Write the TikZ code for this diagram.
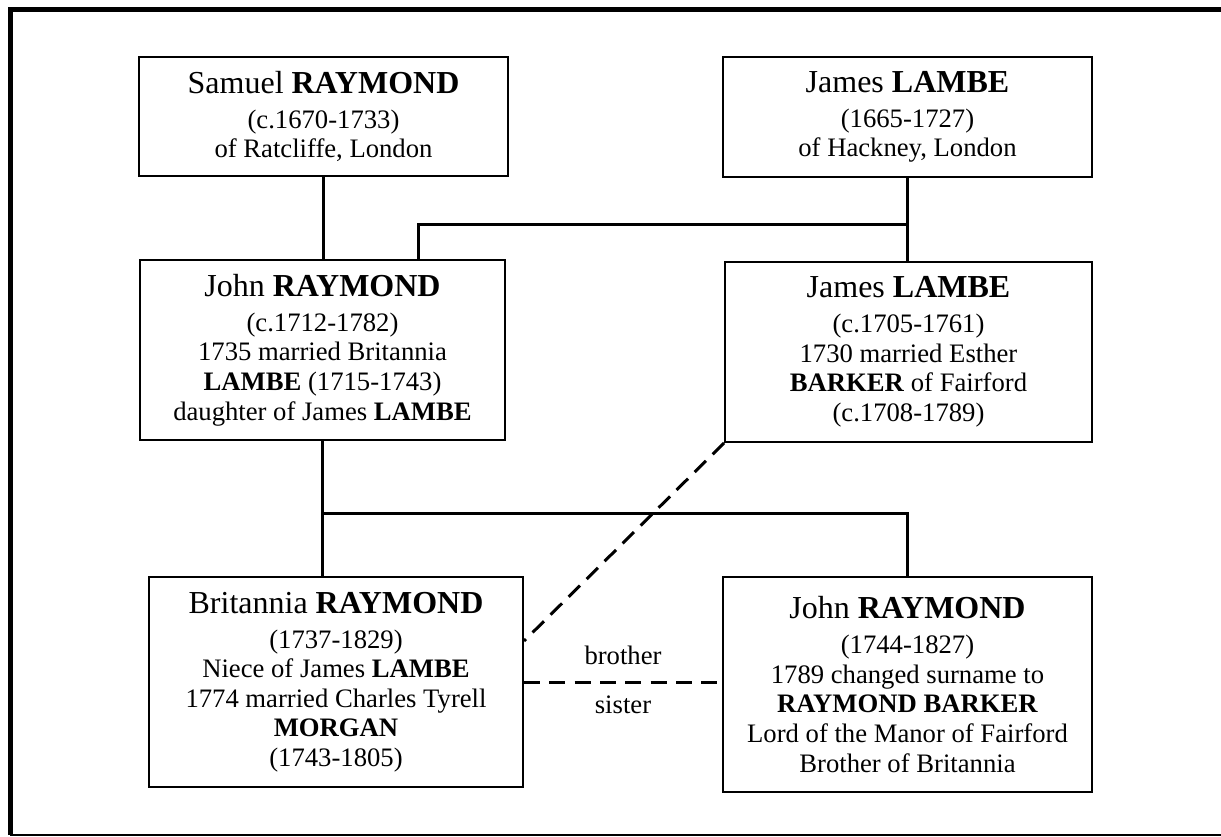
\documentclass[tikz,border=0pt]{standalone}
\usepackage{fontspec}
\setmainfont{Liberation Serif}
\usetikzlibrary{calc}

\tikzset{
  person/.style={draw, line width=1.5pt, align=center, inner sep=0pt,
    font=\fontsize{20}{22.2}\selectfont},
  kin/.style={line width=2.25pt},
  sibling/.style={line width=2.25pt, dash pattern=on 12pt off 7pt},
  relname/.style={inner sep=0pt, font=\fontsize{20}{22.2}\selectfont},
}
\newcommand{\pname}[2]{{\fontsize{24}{27}\selectfont #1 \textbf{#2}}\\[4pt]}

\begin{document}
\begin{tikzpicture}[x=0.75pt,y=0.75pt,yscale=-1,xscale=1]
\useasboundingbox (0,0) rectangle (1221,837);

% Frame
\draw [line width=3.75pt] (10,835) -- (10,10) -- (1221,10) ;
\draw [line width=1.5pt] (10,835) -- (1221,835) ;

% Generation 1
\node [person, minimum width=276.75pt, minimum height=89.25pt] (sam) at (323.5,116.5)
  {\pname{Samuel}{RAYMOND}(c.1670-1733)\\of Ratcliffe, London};
\node [person, minimum width=276.75pt, minimum height=90pt] (jamesA) at (907.5,117)
  {\pname{James}{LAMBE}(1665-1727)\\of Hackney, London};

% Generation 2
\node [person, minimum width=273.75pt, minimum height=135pt] (john) at (322.5,350)
  {\pname{John}{RAYMOND}(c.1712-1782)\\1735 married Britannia\\\textbf{LAMBE} (1715-1743)\\daughter of James \textbf{LAMBE}};
\node [person, minimum width=275.25pt, minimum height=135pt] (jamesB) at (908.5,352)
  {\pname{James}{LAMBE}(c.1705-1761)\\1730 married Esther\\\textbf{BARKER} of Fairford\\(c.1708-1789)};

% Generation 3
\node [person, minimum width=280.5pt, minimum height=157.5pt] (brit) at (336,682)
  {\pname{Britannia}{RAYMOND}(1737-1829)\\Niece of James \textbf{LAMBE}\\1774 married Charles Tyrell\\\textbf{MORGAN}\\(1743-1805)};
\node [person, minimum width=276.75pt, minimum height=161.25pt] (johnB) at (907.5,684.5)
  {\pname{John}{RAYMOND}(1744-1827)\\1789 changed surname to\\\textbf{RAYMOND BARKER}\\Lord of the Manor of Fairford\\Brother of Britannia};

% Descent lines
\coordinate (wedA) at (jamesA.south |- 0,225);
\coordinate (wedB) at ($(john.south)+(0,73)$);
\draw [kin] (sam.south) -- (sam.south |- john.north) ;
\draw [kin] (jamesA.south) -- (jamesA.south |- jamesB.north) ;
\draw [kin] (wedA) -| ($(john.north)+(96,0)$) ;
\draw [kin] (john.south) -- (john.south |- brit.north) ;
\draw [kin] (wedB) -| (johnB.north) ;

% Dashed relations
\draw [sibling] (jamesB.south west) -- ($(brit.east)+(0,-41)$) ;
\draw [sibling] (brit.east) -- (brit.east -| johnB.west)
  node [relname, midway, above=12pt] (bro) {brother}
  node [relname, midway, below=9pt] (sis) {sister} ;

\end{tikzpicture}
\end{document}
